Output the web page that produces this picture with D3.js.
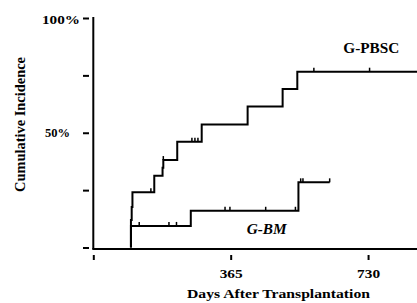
<!DOCTYPE html>
<html>
<head>
<meta charset="utf-8">
<script src="https://cdn.jsdelivr.net/npm/d3@7"></script>
<style>
  html, body { margin: 0; padding: 0; background: #fff; }
  svg { display: block; }
  text { font-family: "Liberation Serif", "Times New Roman", serif; font-weight: bold; fill: #000; }
</style>
</head>
<body>
<svg id="chart" width="417" height="303"></svg>
<script>
// ---- data ----
const xTicks = [0, 365, 730];
const xTickLabels = ["", "365", "730"];
const yTicks = [0, 25, 50, 75, 100];
const yTickLabels = ["", "", "50%", "", "100%"];

// G-PBSC step curve: event days and cumulative incidence (%) after each event
const pbscDays = [100, 100, 102, 104, 162, 184, 186, 223, 288, 410, 503, 542, 860];
const pbscCI   = [0,   12.0, 17.6, 24.1, 31.3, 34.8, 38.1, 46.1, 53.6, 61.4, 69.1, 76.6, 76.6];
// G-PBSC censored observations
const pbscCensDays = [153, 186, 262, 270, 278, 586, 734];
const pbscCensCI   = [24.1, 38.1, 46.1, 46.1, 46.1, 76.6, 76.6];

// G-BM step curve
const bmDays = [100, 100, 259, 545, 628];
const bmCI   = [0,   9.4, 16.0, 28.4, 28.4];
// G-BM censored observations
const bmCensDays = [122, 201, 221, 350, 363, 458, 537, 551, 557, 628];
const bmCensCI   = [9.4, 9.4, 9.4, 16.0, 16.0, 16.0, 16.0, 28.4, 28.4, 28.4];

const seriesNames = ["G-PBSC", "G-BM"];
const xTitle = "Days After Transplantation";
const yTitle = "Cumulative Incidence";

// ---- chart ----
const svg = d3.select("#chart");
const x = d3.scaleLinear().domain([0, 860]).range([93.3, 417]);
const y = d3.scaleLinear().domain([0, 100]).range([247.5, 18]);

// axis lines
svg.append("line").attr("x1", 93.3).attr("x2", 93.3).attr("y1", 17).attr("y2", 249)
  .attr("stroke", "#000").attr("stroke-width", 2);
svg.append("line").attr("x1", 92.3).attr("x2", 417).attr("y1", 249).attr("y2", 249)
  .attr("stroke", "#000").attr("stroke-width", 2);

// y axis ticks (detached, left of the axis line)
const yAxis = d3.axisLeft(y).tickValues(yTicks).tickSize(6).tickPadding(3)
  .tickFormat((d, i) => yTickLabels[i]);
const gy = svg.append("g").attr("transform", "translate(89,0)").call(yAxis);
gy.select(".domain").remove();
gy.selectAll(".tick line").attr("stroke", "#000").attr("stroke-width", 2);
gy.selectAll(".tick text").attr("font-size", 12).attr("font-family", "Liberation Serif")
  .attr("font-weight", "bold")
  .each(function(d) {
    const t = d3.select(this);
    if (d === 100) { t.attr("x", -9).attr("textLength", 38).attr("lengthAdjust", "spacingAndGlyphs").attr("dy", "0.45em"); }
    if (d === 50)  { t.attr("x", -19).attr("textLength", 25).attr("lengthAdjust", "spacingAndGlyphs").attr("dy", "0.32em"); }
  });

// x axis ticks (detached, below the axis line)
const xAxis = d3.axisBottom(x).tickValues(xTicks).tickSize(5).tickPadding(3)
  .tickFormat((d, i) => xTickLabels[i]);
const gx = svg.append("g").attr("transform", "translate(0,255)").call(xAxis);
gx.select(".domain").remove();
gx.selectAll(".tick line").attr("stroke", "#000").attr("stroke-width", 2);
gx.selectAll(".tick text").attr("font-size", 12.5).attr("font-family", "Liberation Serif")
  .attr("font-weight", "bold").attr("y", 23).attr("dy", 0)
  .attr("textLength", 23).attr("lengthAdjust", "spacingAndGlyphs");

// step curves
const line = d3.line().x(d => x(d[0])).y(d => y(d[1])).curve(d3.curveStepAfter);
const pbscPts = pbscDays.map((d, i) => [d, pbscCI[i]]);
const bmPts = bmDays.map((d, i) => [d, bmCI[i]]);
svg.append("path").attr("d", line(pbscPts)).attr("fill", "none")
  .attr("stroke", "#000").attr("stroke-width", 2);
svg.append("path").attr("d", line(bmPts)).attr("fill", "none")
  .attr("stroke", "#000").attr("stroke-width", 2);

// censor marks
function censor(days, ci) {
  svg.append("g").selectAll("line").data(days.map((d, i) => [d, ci[i]])).join("line")
    .attr("x1", d => x(d[0])).attr("x2", d => x(d[0]))
    .attr("y1", d => y(d[1])).attr("y2", d => y(d[1]) - 4)
    .attr("stroke", "#000").attr("stroke-width", 1.5);
}
censor(pbscCensDays, pbscCensCI);
censor(bmCensDays, bmCensCI);

// series labels
svg.append("text").attr("x", 343.3).attr("y", 52.7).attr("font-size", 14)
  .attr("textLength", 56).attr("lengthAdjust", "spacingAndGlyphs").text(seriesNames[0]);
svg.append("text").attr("x", 246.7).attr("y", 234).attr("font-size", 14)
  .attr("font-style", "italic")
  .attr("textLength", 40).attr("lengthAdjust", "spacingAndGlyphs").text(seriesNames[1]);

// axis titles
svg.append("text").attr("x", 187).attr("y", 297.5).attr("font-size", 12.5)
  .attr("textLength", 183).attr("lengthAdjust", "spacingAndGlyphs").text(xTitle);
svg.append("text").attr("transform", "translate(25,124.5) rotate(-90)")
  .attr("text-anchor", "middle").attr("font-size", 14)
  .attr("textLength", 135).attr("lengthAdjust", "spacingAndGlyphs").text(yTitle);
</script>
</body>
</html>
